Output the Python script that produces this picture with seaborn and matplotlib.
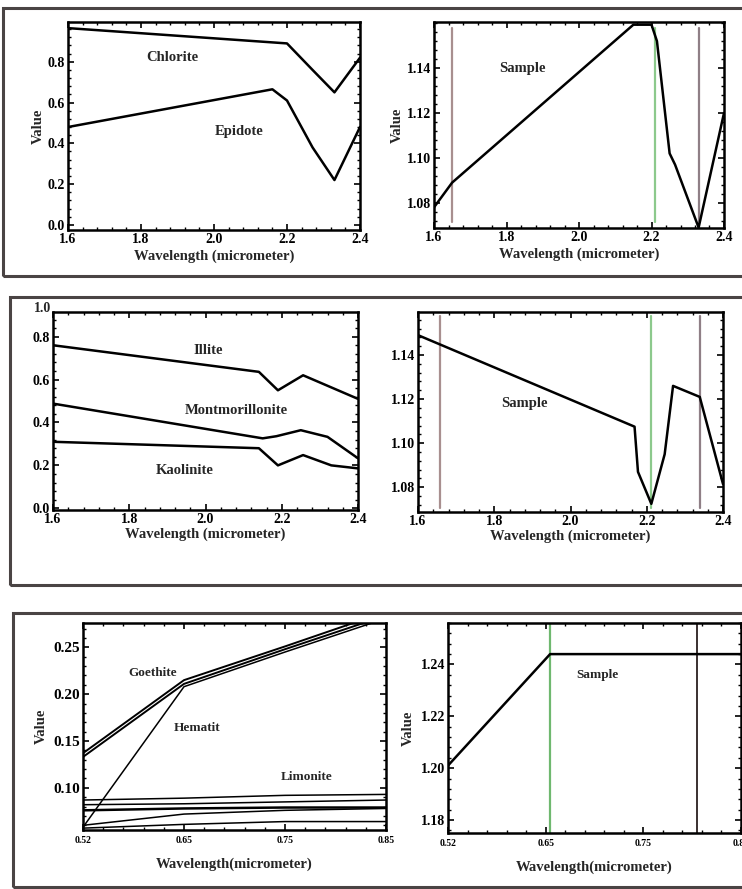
import numpy as np
import pandas as pd
import matplotlib
matplotlib.use("Agg")
import matplotlib.pyplot as plt
from matplotlib.patches import Rectangle
from matplotlib.ticker import AutoMinorLocator
import seaborn as sns

# ---------------- data ----------------
# Row 1 left: Chlorite / Epidote
chlorite_x = [1.60, 2.20, 2.27, 2.33, 2.40]
chlorite_y = [0.965, 0.89, 0.76, 0.65, 0.82]
epidote_x = [1.60, 2.16, 2.20, 2.27, 2.33, 2.40]
epidote_y = [0.48, 0.665, 0.61, 0.38, 0.22, 0.48]

# Row 1 right: Sample
sample1_x = [1.60, 1.65, 2.15, 2.20, 2.215, 2.25, 2.265, 2.33, 2.40]
sample1_y = [1.078, 1.089, 1.1593, 1.1593, 1.152, 1.102, 1.097, 1.069, 1.12]
sample1_vlines = [1.65, 2.21, 2.33]

# Row 2 left: Illite / Montmorillonite / Kaolinite
illite_x = [1.60, 2.14, 2.19, 2.256, 2.40]
illite_y = [0.76, 0.636, 0.55, 0.62, 0.51]
montmor_x = [1.60, 2.15, 2.186, 2.25, 2.32, 2.40]
montmor_y = [0.488, 0.326, 0.336, 0.364, 0.333, 0.233]
kaolin_x = [1.60, 2.14, 2.19, 2.256, 2.33, 2.40]
kaolin_y = [0.31, 0.28, 0.20, 0.248, 0.20, 0.186]

# Row 2 right: Sample
sample2_x = [1.60, 2.168, 2.177, 2.212, 2.247, 2.269, 2.339, 2.40]
sample2_y = [1.149, 1.1075, 1.087, 1.0725, 1.095, 1.126, 1.121, 1.0815]
sample2_vlines = [1.657, 2.212, 2.339]

# Row 3 left: VNIR (Goethite / Hematite / Limonite ...)
vnir_x = [0.52, 0.63, 0.74, 0.85]
vnir_ticks = [0.52, 0.63, 0.74, 0.85]
vnir_ticklabels = ["0.52", "0.65", "0.75", "0.85"]
goethite_a = [0.133, 0.211, 0.248, 0.284]
goethite_b = [0.137, 0.215, 0.251, 0.288]
hematite = [0.058, 0.208, 0.245, 0.281]
limonite_1 = [0.087, 0.089, 0.092, 0.093]
limonite_2 = [0.082, 0.083, 0.085, 0.087]
limonite_3 = [0.076, 0.078, 0.079, 0.079]
limonite_4 = [0.060, 0.072, 0.076, 0.078]
limonite_5 = [0.057, 0.061, 0.064, 0.064]

# Row 3 right: Sample
sample3_x = [0.52, 0.635, 0.85]
sample3_y = [1.201, 1.244, 1.244]
sample3_vlines = [0.635, 0.80]

# ---------------- styling ----------------
sns.set_theme(style="ticks")
plt.rcParams["font.family"] = ["Liberation Serif", "DejaVu Serif"]
plt.rcParams["font.weight"] = "bold"
plt.rcParams["axes.labelweight"] = "bold"

W, H = 742, 889
fig = plt.figure(figsize=(W / 100, H / 100), dpi=100)
fig.patch.set_facecolor("white")

FS_TICK = 10
FS_LAB = 10.5
FS_ANN = 10.5

def add_ax(x0, y0, x1, y1):
    return fig.add_axes([x0 / W, 1 - y1 / H, (x1 - x0) / W, (y1 - y0) / H])

def style(ax, xlabel, ylabel=None, xpad=1, ypad=2):
    for s in ax.spines.values():
        s.set_linewidth(1.8)
        s.set_color("black")
    ax.tick_params(which="both", direction="in", top=True, right=True,
                   labelsize=FS_TICK, colors="black", pad=2)
    ax.tick_params(which="major", length=4, width=1.2)
    ax.tick_params(which="minor", length=2, width=1.0)
    ax.xaxis.set_minor_locator(AutoMinorLocator(5))
    ax.yaxis.set_minor_locator(AutoMinorLocator(5))
    for lab in ax.get_xticklabels() + ax.get_yticklabels():
        lab.set_fontweight("bold")
    ax.set_xlabel(xlabel, fontsize=FS_LAB, fontweight="bold", labelpad=xpad)
    if ylabel:
        ax.set_ylabel(ylabel, fontsize=FS_LAB, fontweight="bold", labelpad=ypad)
    else:
        ax.set_ylabel("")

def line(ax, x, y, lw=1.8, color="black"):
    sns.lineplot(x=x, y=y, ax=ax, color=color, lw=lw, sort=False,
                 estimator=None, legend=False)

# panel boxes
for (x0, y0, y1) in [(3, 8, 276), (10, 297, 585), (13, 613, 887)]:
    fig.add_artist(Rectangle((x0 / W, 1 - y1 / H), (W + 20 - x0) / W, (y1 - y0) / H,
                             transform=fig.transFigure, fill=False,
                             edgecolor="#4a4444", lw=2.2, clip_on=False))

wl_x = np.array([1.6, 1.8, 2.0, 2.2, 2.4])

# ---- Row 1 left
ax = add_ax(68, 22, 360, 230)
line(ax, chlorite_x, chlorite_y)
line(ax, epidote_x, epidote_y)
ax.set_xlim(1.6, 2.4)
ax.set_ylim(-0.025, 0.995)
ax.set_xticks(wl_x)
ax.set_yticks([0.0, 0.2, 0.4, 0.6, 0.8])
ax.set_yticklabels(["0.0", "0.2", "0.4", "0.6", "0.8"])
ax.text(1.885, 0.82, "Chlorite", fontsize=FS_ANN, fontweight="bold", ha="center", va="center")
ax.text(2.07, 0.46, "Epidote", fontsize=FS_ANN, fontweight="bold", ha="center", va="center")
style(ax, "Wavelength (micrometer)", "Value", xpad=3)

# ---- Row 1 right
ax = add_ax(434, 22, 724, 228)
for xv, c in zip(sample1_vlines, ["#a88f8f", "#8cc98c", "#8f7f86"]):
    ax.axvline(xv, ymin=0.03, ymax=0.97, color=c, lw=1.6)
line(ax, sample1_x, sample1_y)
ax.set_xlim(1.6, 2.4)
ax.set_ylim(1.0688, 1.1605)
ax.set_xticks(wl_x)
ax.set_yticks([1.08, 1.10, 1.12, 1.14])
ax.set_yticklabels(["1.08", "1.10", "1.12", "1.14"])
ax.text(1.844, 1.14, "Sample", fontsize=FS_ANN, fontweight="bold", ha="center", va="center")
style(ax, "Wavelength (micrometer)", "Value", xpad=3)

# ---- Row 2 left
ax = add_ax(53, 312, 358, 510)
line(ax, illite_x, illite_y)
line(ax, montmor_x, montmor_y)
line(ax, kaolin_x, kaolin_y)
ax.set_xlim(1.6, 2.4)
ax.set_ylim(-0.008, 0.915)
ax.set_xticks(wl_x)
ax.set_yticks([0.0, 0.2, 0.4, 0.6, 0.8])
ax.set_yticklabels(["0.0", "0.2", "0.4", "0.6", "0.8"])
ax.text(-0.005, 0.985, "1.0", transform=ax.transAxes, fontsize=FS_TICK, fontweight="bold",
        ha="right", va="bottom")
ax.text(2.006, 0.736, "Illite", fontsize=FS_ANN, fontweight="bold", ha="center", va="center")
ax.text(2.08, 0.457, "Montmorillonite", fontsize=FS_ANN, fontweight="bold", ha="center", va="center")
ax.text(1.945, 0.178, "Kaolinite", fontsize=FS_ANN, fontweight="bold", ha="center", va="center")
style(ax, "Wavelength (micrometer)")

# ---- Row 2 right
ax = add_ax(418, 312, 723, 512)
for xv, c in zip(sample2_vlines, ["#a88f8f", "#8cc98c", "#8f7f86"]):
    ax.axvline(xv, ymin=0.02, ymax=0.98, color=c, lw=1.6)
line(ax, sample2_x, sample2_y)
ax.set_xlim(1.6, 2.4)
ax.set_ylim(1.0688, 1.1595)
ax.set_xticks(wl_x)
ax.set_yticks([1.08, 1.10, 1.12, 1.14])
ax.set_yticklabels(["1.08", "1.10", "1.12", "1.14"])
ax.text(1.88, 1.118, "Sample", fontsize=FS_ANN, fontweight="bold", ha="center", va="center")
style(ax, "Wavelength (micrometer)")

# ---- Row 3 left
ax = add_ax(83, 623, 386, 830)
for ys in [limonite_1, limonite_2, limonite_4, limonite_5]:
    line(ax, vnir_x, ys, lw=1.1)
line(ax, vnir_x, limonite_3, lw=1.8)
line(ax, vnir_x, hematite, lw=1.1)
line(ax, vnir_x, goethite_a, lw=1.4)
line(ax, vnir_x, goethite_b, lw=1.4)
ax.set_xlim(0.52, 0.85)
ax.set_ylim(0.055, 0.276)
ax.set_xticks(vnir_ticks)
ax.set_xticklabels(vnir_ticklabels)
ax.set_yticks([0.10, 0.15, 0.20, 0.25])
ax.set_yticklabels(["0.10", "0.15", "0.20", "0.25"])
ax.text(0.596, 0.223, "Goethite", fontsize=FS_ANN - 1, fontweight="bold", ha="center", va="center")
ax.text(0.644, 0.164, "Hematit", fontsize=FS_ANN - 1, fontweight="bold", ha="center", va="center")
ax.text(0.764, 0.112, "Limonite", fontsize=FS_ANN - 1, fontweight="bold", ha="center", va="center")
style(ax, "Wavelength(micrometer)", "Value", xpad=9, ypad=4)
ax.tick_params(axis="x", labelsize=7, pad=4)
ax.tick_params(axis="y", labelsize=11)

# ---- Row 3 right
ax = add_ax(448, 623, 741, 833)
ax.axvline(sample3_vlines[0], color="#6fb86f", lw=1.6)
ax.axvline(sample3_vlines[1], color="#3a3030", lw=1.4)
line(ax, sample3_x, sample3_y)
ax.set_xlim(0.52, 0.85)
ax.set_ylim(1.175, 1.256)
ax.set_xticks(vnir_ticks)
ax.set_xticklabels(vnir_ticklabels)
ax.set_yticks([1.18, 1.20, 1.22, 1.24])
ax.set_yticklabels(["1.18", "1.20", "1.22", "1.24"])
ax.text(0.688, 1.236, "Sample", fontsize=FS_ANN - 1, fontweight="bold", ha="center", va="center")
style(ax, "Wavelength(micrometer)", "Value", xpad=9, ypad=4)
ax.tick_params(axis="x", labelsize=7, pad=4)

fig.savefig("out.png", dpi=100, facecolor="white")
